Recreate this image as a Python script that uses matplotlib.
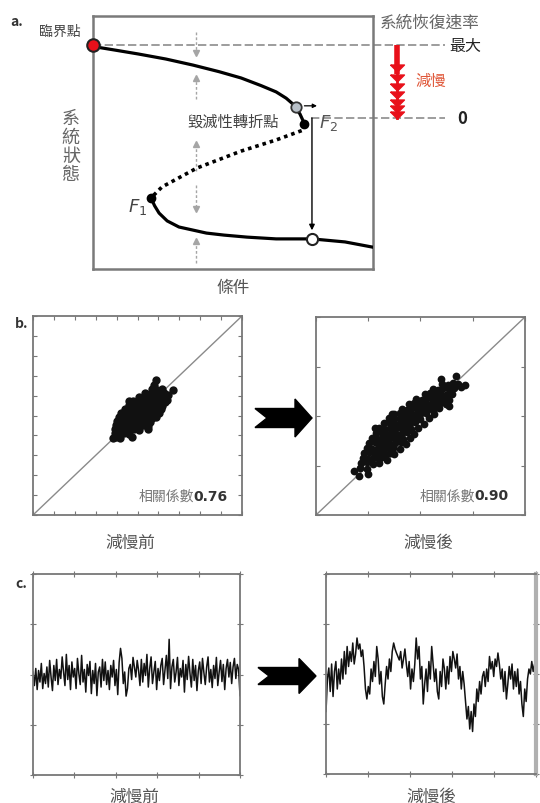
import numpy as np
import matplotlib.pyplot as plt
from matplotlib.patches import Polygon

plt.rcParams['font.family'] = ['Noto Sans CJK TC', 'DejaVu Sans']

W, H = 540, 804

# ---- panel a: fold bifurcation sketch (condition vs state, 0..100) ----
upper_x = [0, 1.4, 8, 16.1, 26, 35.7, 45, 52.9, 60, 65.4, 69, 71.4, 73.9, 75.4]
upper_y = [88.5, 87.7, 86.5, 85.0, 83.0, 80.6, 78.0, 75.5, 72.5, 70.0, 67.5, 65.2, 61.3, 57.7]
middle_x = [75.4, 75.0, 65.4, 52.9, 37.1, 24.6, 20.7]
middle_y = [57.3, 54.9, 51.0, 46.6, 39.9, 32.4, 28.1]
lower_x = [20.7, 22.0, 23.6, 26.5, 30.7, 40.5, 46.8, 55, 65.4, 78.2, 90.0, 99.6]
lower_y = [28.1, 25.0, 22.1, 19.0, 16.6, 14.2, 13.4, 12.6, 11.9, 11.9, 10.7, 8.7]

critical_pt = (0, 88.5)
grey_pt = (72.5, 64.0)
f2_pt = (75.4, 57.3)
f1_pt = (20.7, 28.1)
white_pt = (78.2, 11.9)

rate_max_y = 88.5
rate_zero_y = 59.7
slow_heads_y = [79.5, 75.5, 72.0, 68.6, 65.8, 63.2, 61.0]

# gray "restoring" arrows: (x, start, tip)
restore_x = 36.8
restore_start = [93.7, 67.2, 38.7, 33.2, 2.4]
restore_tip = [85.4, 75.5, 49.4, 23.7, 11.1]

# ---- panel b: scatter before / after slowing ----
before_x = [3.95, 4.15,
            3.90, 4.12, 4.35, 4.58,
            3.92, 4.15, 4.38, 4.60, 4.83, 5.05,
            3.98, 4.20, 4.43, 4.65, 4.88, 5.10, 5.32, 5.52,
            4.05, 4.28, 4.50, 4.73, 4.95, 5.18, 5.40, 5.62,
            4.12, 4.35, 4.58, 4.80, 5.03, 5.25, 5.48, 5.70, 5.90,
            4.22, 4.45, 4.68, 4.90, 5.13, 5.35, 5.58, 5.80, 6.02,
            4.38, 4.60, 4.83, 5.05, 5.28, 5.50, 5.73, 5.95, 6.12,
            4.58, 4.80, 5.03, 5.25, 5.48, 5.70, 5.92, 6.15,
            4.80, 5.02, 5.25, 5.47, 5.70, 5.92, 6.15, 6.30,
            5.05, 5.28, 5.50, 5.73, 5.95, 6.18, 6.35,
            5.35, 5.58, 5.80, 6.03, 6.25,
            5.70, 5.93, 6.15,
            5.90, 6.70, 4.60, 5.80, 4.75, 5.48, 4.02, 6.42, 3.85, 6.45, 4.35]
before_y = [3.92, 3.88,
            4.11, 4.08, 4.12, 4.09,
            4.31, 4.28, 4.32, 4.29, 4.31, 4.27,
            4.51, 4.48, 4.52, 4.49, 4.51, 4.47, 4.52, 4.49,
            4.71, 4.68, 4.72, 4.69, 4.71, 4.67, 4.72, 4.69,
            4.91, 4.88, 4.92, 4.89, 4.91, 4.87, 4.92, 4.89, 4.91,
            5.11, 5.08, 5.12, 5.09, 5.11, 5.07, 5.12, 5.09, 5.11,
            5.31, 5.28, 5.32, 5.29, 5.31, 5.27, 5.32, 5.29, 5.31,
            5.51, 5.48, 5.52, 5.49, 5.51, 5.47, 5.52, 5.49,
            5.71, 5.68, 5.72, 5.69, 5.71, 5.67, 5.72, 5.69,
            5.91, 5.88, 5.92, 5.89, 5.91, 5.87, 5.92,
            6.11, 6.08, 6.12, 6.09, 6.11,
            6.31, 6.28, 6.32,
            6.78, 6.30, 5.72, 6.55, 3.90, 4.30, 4.72, 5.80, 3.85, 6.05, 5.05]

after_x = [0.85, 0.98,
           0.87, 0.98, 1.10, 1.20,
           0.90, 1.00, 1.10, 1.20, 1.30,
           0.92, 1.02, 1.12, 1.22, 1.32, 1.42, 1.50,
           0.98, 1.08, 1.18, 1.28, 1.38, 1.48, 1.60,
           1.02, 1.12, 1.22, 1.32, 1.42, 1.52, 1.62, 1.72,
           1.07, 1.17, 1.27, 1.37, 1.47, 1.57, 1.67, 1.79,
           1.14, 1.24, 1.34, 1.44, 1.54, 1.64, 1.74, 1.88,
           1.21, 1.31, 1.41, 1.51, 1.61, 1.71, 1.81, 1.96,
           1.30, 1.40, 1.50, 1.60, 1.70, 1.80, 1.90, 2.06,
           1.40, 1.50, 1.60, 1.70, 1.80, 1.90, 2.00, 2.16,
           1.50, 1.60, 1.70, 1.80, 1.90, 2.00, 2.10, 2.25,
           1.64, 1.74, 1.84, 1.94, 2.04, 2.14, 2.24, 2.36,
           1.78, 1.88, 1.98, 2.08, 2.18, 2.28, 2.38, 2.48,
           1.92, 2.02, 2.12, 2.22, 2.32, 2.42, 2.55,
           2.08, 2.18, 2.28, 2.38, 2.48, 2.60,
           2.24, 2.34, 2.44, 2.54, 2.65,
           2.42, 2.52, 2.62, 2.72,
           0.82, 0.72, 1.00, 1.35, 2.78, 2.68, 2.85, 1.12, 1.45, 2.55, 1.42, 2.40]
after_y = [0.95, 0.93,
           1.05, 1.07, 1.04, 1.06,
           1.15, 1.13, 1.16, 1.14, 1.17,
           1.25, 1.27, 1.24, 1.26, 1.23, 1.26, 1.24,
           1.35, 1.33, 1.36, 1.34, 1.37, 1.35, 1.33,
           1.45, 1.47, 1.44, 1.46, 1.43, 1.45, 1.47, 1.44,
           1.55, 1.53, 1.56, 1.54, 1.57, 1.55, 1.53, 1.56,
           1.65, 1.67, 1.64, 1.66, 1.63, 1.65, 1.67, 1.64,
           1.75, 1.73, 1.76, 1.74, 1.77, 1.75, 1.73, 1.76,
           1.85, 1.87, 1.84, 1.86, 1.83, 1.85, 1.87, 1.84,
           1.95, 1.93, 1.96, 1.94, 1.97, 1.95, 1.93, 1.96,
           2.05, 2.07, 2.04, 2.06, 2.03, 2.05, 2.07, 2.04,
           2.15, 2.13, 2.16, 2.14, 2.17, 2.15, 2.13, 2.16,
           2.25, 2.27, 2.24, 2.26, 2.23, 2.25, 2.27, 2.24,
           2.35, 2.33, 2.36, 2.34, 2.37, 2.35, 2.33,
           2.45, 2.47, 2.44, 2.46, 2.43, 2.45,
           2.55, 2.53, 2.56, 2.54, 2.57,
           2.65, 2.63, 2.66, 2.64,
           0.78, 0.88, 0.82, 1.12, 2.58, 2.80, 2.62, 1.75, 2.05, 2.20, 1.25, 2.75]

# ---- panel c: time series before / after slowing ----
series_before = [0.05, -0.22, 0.12, -0.30, 0.08, -0.15, 0.22, -0.28, 0.02, -0.18,
                 0.15, -0.25, 0.28, -0.05, -0.32, 0.18, -0.12, 0.30, -0.20, 0.10,
                 -0.08, 0.35, 0.05, -0.22, 0.40, -0.10, 0.18, -0.30, 0.25, -0.05,
                 0.12, -0.28, 0.32, 0.02, -0.20, 0.38, -0.15, 0.10, -0.35, 0.20,
                 -0.02, 0.26, -0.38, 0.08, -0.18, 0.22, -0.42, 0.05, 0.15, -0.25,
                 0.30, -0.12, 0.25, -0.20, 0.08, -0.30, 0.18, -0.05, 0.28, -0.22,
                 0.10, -0.40, 0.24, 0.52, 0.32, -0.18, 0.05, -0.43, -0.28, 0.12,
                 0.20, -0.10, 0.34, 0.15, -0.05, 0.28, 0.08, -0.22, 0.30, -0.15,
                 0.22, -0.02, 0.40, -0.25, 0.12, 0.35, -0.18, 0.05, 0.26, -0.30,
                 0.12, -0.12, 0.18, 0.32, -0.20, 0.10, 0.38, -0.08, 0.70, -0.28,
                 0.15, 0.30, -0.15, 0.05, 0.34, -0.22, 0.12, -0.05, 0.28, -0.35,
                 0.20, -0.10, 0.36, 0.02, -0.25, 0.30, -0.12, 0.18, -0.32, 0.08,
                 0.25, -0.18, 0.32, 0.04, -0.20, 0.15, 0.35, -0.15, 0.10, -0.26,
                 0.18, -0.08, 0.34, -0.22, 0.05, 0.28, -0.14, 0.20, -0.30, 0.12,
                 0.30, -0.05, 0.24, -0.18, 0.15, 0.32, -0.08, 0.20, 0.10, -0.42]
series_after = [-0.75, -0.10, 0.12, -0.35, 0.20, -0.45, 0.05, 0.25, -0.30, 0.10,
                -0.20, 0.30, -0.10, 0.45, 0.00, 0.55, 0.15, 0.45, 0.25, 0.62,
                0.20, 0.40, 0.72, 0.50, 0.60, 0.35, 0.48, 0.15, -0.30, -0.50,
                -0.25, -0.40, 0.10, -0.15, 0.25, -0.05, 0.55, 0.30, -0.20, 0.05,
                -0.45, -0.60, -0.20, 0.15, -0.10, 0.30, 0.05, 0.45, 0.62, 0.50,
                0.42, 0.35, 0.28, 0.45, 0.12, 0.30, 0.50, 0.20, -0.05, 0.25,
                -0.30, 0.10, -0.15, 0.20, 0.72, 0.30, 0.55, -0.10, 0.15, -0.60,
                -0.20, 0.10, -0.35, 0.25, -0.10, 0.55, 0.20, -0.15, 0.10, -0.35,
                -0.50, 0.05, -0.25, 0.30, 0.10, -0.30, 0.15, -0.20, 0.35, 0.05,
                0.45, 0.30, 0.12, 0.40, -0.10, 0.15, -0.30, 0.05, -0.20, -0.55,
                -0.90, -0.65, -1.10, -0.75, -1.15, -0.60, -0.85, -0.30, -0.55, -0.15,
                -0.40, -0.05, 0.05, -0.25, 0.10, -0.15, 0.35, 0.10, 0.25, -0.05,
                0.30, 0.15, 0.42, 0.20, -0.10, 0.10, -0.35, 0.05, -0.50, -0.20,
                0.15, -0.10, 0.20, -0.30, 0.05, -0.25, 0.10, -0.40, -0.15, -0.60,
                -0.85, -0.30, -0.55, -0.10, 0.10, 0.00, 0.25, 0.05, 0.20, 0.10]

corr_before = '0.76'
corr_after = '0.90'

fig = plt.figure(figsize=(W / 100, H / 100), dpi=100)


def px_axes(x0, y0, x1, y1):
    return fig.add_axes([x0 / W, 1 - y1 / H, (x1 - x0) / W, (y1 - y0) / H])


def fig_text(px, py, s, **kw):
    fig.text(px / W, 1 - py / H, s, **kw)


def chevron(x0, x1, yc, body, head, notch, head_len):
    pts = [(x0, yc - body), (x1 - head_len, yc - body), (x1 - head_len, yc - head),
           (x1, yc), (x1 - head_len, yc + head), (x1 - head_len, yc + body),
           (x0, yc + body), (x0 + notch, yc)]
    pts = [(x / W, 1 - y / H) for x, y in pts]
    fig.patches.append(Polygon(pts, closed=True, color='black',
                               transform=fig.transFigure, figure=fig))


# ---------------- panel a ----------------
ax = px_axes(93, 17, 373, 270)
ax.set_xlim(0, 100)
ax.set_ylim(0, 100)
ax.set_xticks([])
ax.set_yticks([])
for sp in ax.spines.values():
    sp.set_color('#7a7a7a')
    sp.set_linewidth(1.8)

dash_kw = dict(color='#8c8c8c', lw=1.2, ls=(0, (5, 2)), clip_on=False, zorder=1)
ax.plot([0, 125.7], [rate_max_y, rate_max_y], **dash_kw)
ax.plot([78, 125.7], [rate_zero_y, rate_zero_y], **dash_kw)

for y0, y1 in zip(restore_start, restore_tip):
    ax.plot([restore_x, restore_x], [y0, y1], color='#a5a5a5', lw=1,
            ls=(0, (2, 1.5)), zorder=1)
    ax.plot(restore_x, y1, marker='^' if y1 > y0 else 'v', ms=5,
            color='#a5a5a5', zorder=1)

ax.plot(upper_x, upper_y, color='black', lw=2.3, solid_capstyle='round', zorder=3)
ax.plot(middle_x, middle_y, color='black', lw=2.6, ls=(0, (1, 1.1)), zorder=3)
ax.plot(lower_x, lower_y, color='black', lw=2.3, zorder=3)

ax.annotate('', xy=(white_pt[0], 15.3), xytext=(white_pt[0], rate_zero_y),
            arrowprops=dict(arrowstyle='-|>', color='black', lw=1,
                            mutation_scale=8, shrinkA=0, shrinkB=0), zorder=4)
ax.annotate('', xy=(80, 64.5), xytext=(75.5, 64.5),
            arrowprops=dict(arrowstyle='-|>', color='black', lw=0.9,
                            mutation_scale=6, shrinkA=0, shrinkB=0), zorder=4)

ax.plot(*critical_pt, marker='o', ms=9, mfc='#e8101a', mec='#222222', mew=1.5,
        clip_on=False, zorder=6)
ax.plot(*grey_pt, marker='o', ms=7.5, mfc='#b8c0c8', mec='#333333', mew=1.3, zorder=6)
ax.plot(*f2_pt, marker='o', ms=6, color='black', zorder=6)
ax.plot(*f1_pt, marker='o', ms=6, color='black', zorder=6)
ax.plot(*white_pt, marker='o', ms=8, mfc='white', mec='#222222', mew=1.5, zorder=6)

# slowing arrow (stacked red heads)
ax.plot([108.6, 108.6], [rate_max_y, 77], color='#e8101a', lw=4, clip_on=False,
        solid_capstyle='butt')
ax.plot([108.6, 108.6], [77, rate_zero_y], color='#e8101a', lw=2, clip_on=False)
head = [(-1, 0.5), (1, 0.5), (0, -0.5), (-1, 0.5)]
ax.plot([108.6] * len(slow_heads_y), slow_heads_y, ls='none', marker=head, ms=10,
        color='#e8101a', clip_on=False)

ax.text(0 - 11.8, 94.1, '臨界點', fontsize=10, color='#444444', ha='center',
        va='center', clip_on=False)
ax.text(-7.9, 48.5, '系\n統\n狀\n態', fontsize=13, color='#666666', ha='center',
        va='center', linespacing=1.05)
ax.text(50, -7.3, '條件', fontsize=12, color='#555555', ha='center', va='center')
ax.text(50, 58.3, '毀滅性轉折點', fontsize=11, color='#444444', ha='center', va='center')
ax.text(84.0, 58.0, '$F_2$', fontsize=13, color='#555555', ha='center', va='center')
ax.text(16.0, 25.0, '$F_1$', fontsize=13, color='#444444', ha='center', va='center')
ax.text(120.3, 97.4, '系統恢復速率', fontsize=12, color='#666666', ha='center',
        va='center', clip_on=False)
ax.text(133, rate_max_y, '最大', fontsize=11.5, color='#222222', ha='center',
        va='center', clip_on=False)
ax.text(120.7, 74.7, '減慢', fontsize=11, color='#e0583a', ha='center', va='center',
        clip_on=False)
ax.text(131.8, rate_zero_y, '0', fontsize=12, color='#222222', ha='center',
        va='center', fontweight='bold', clip_on=False)

fig_text(10, 22, 'a.', fontsize=10, fontweight='bold', color='#333333', va='center')

# ---------------- panel b ----------------
def scatter_panel(rect, lim, nticks, xs, ys, corr, tx, ty, ms):
    ax = px_axes(*rect)
    ax.set_xlim(0, lim)
    ax.set_ylim(0, lim)
    ticks = np.linspace(0, lim, nticks + 1)
    ax.set_xticks(ticks)
    ax.set_yticks(ticks)
    ax.tick_params(direction='in', length=3, width=0.8, colors='#777777',
                   top=True, right=True, labelbottom=False, labelleft=False)
    for sp in ax.spines.values():
        sp.set_color('#777777')
        sp.set_linewidth(1.3)
    ax.plot([0, lim], [0, lim], color='#8a8a8a', lw=1)
    ax.plot(xs, ys, ls='none', marker='o', ms=ms, mew=0, color='#111111')
    num = ax.text(tx, ty, corr, fontsize=10, fontweight='bold', color='#333333',
                  ha='right', va='center', family=['DejaVu Sans'])
    ax.annotate('相關係數', xy=(0, 0.5), xycoords=num, ha='right', va='center',
                fontsize=10, color='#777777')
    return ax


scatter_panel((33, 317, 242, 516), 10, 10, before_x, before_y, corr_before,
              9.33, 0.95, 6.0)
scatter_panel((316, 318, 525, 516), 4, 4, after_x, after_y, corr_after,
              3.69, 0.4, 5.6)
chevron(255, 312, 419, 9.5, 19, 12, 17)

fig_text(15, 324, 'b.', fontsize=10, fontweight='bold', color='#333333', va='center')
fig_text(130, 543, '減慢前', fontsize=12, color='#555555', ha='center', va='center')
fig_text(428, 543, '減慢後', fontsize=12, color='#555555', ha='center', va='center')

# ---------------- panel c ----------------
def series_panel(rect, values):
    ax = px_axes(*rect)
    t = np.linspace(0, 5, len(values))
    ax.plot(t, values, color='#111111', lw=1.1)
    ax.set_xlim(0, 5)
    ax.set_ylim(-2, 2)
    ax.set_xticks(range(6))
    ax.set_yticks(range(-2, 3))
    ax.tick_params(direction='inout', length=4, width=0.8, colors='#777777',
                   top=True, right=True, labelbottom=False, labelleft=False)
    for sp in ax.spines.values():
        sp.set_color('#777777')
        sp.set_linewidth(1.3)
    return ax


series_panel((33, 575, 240, 776), series_before)
axr = series_panel((326, 575, 536, 775), series_after)
axr.spines['right'].set_color('#b0b0b0')
axr.spines['right'].set_linewidth(3)
chevron(258, 316, 677, 8.5, 17.5, 11, 17)

fig_text(15, 584, 'c.', fontsize=10, fontweight='bold', color='#333333', va='center')
fig_text(134, 797, '減慢前', fontsize=12, color='#555555', ha='center', va='center')
fig_text(431, 797, '減慢後', fontsize=12, color='#555555', ha='center', va='center')

fig.savefig('out.png', dpi=100)
